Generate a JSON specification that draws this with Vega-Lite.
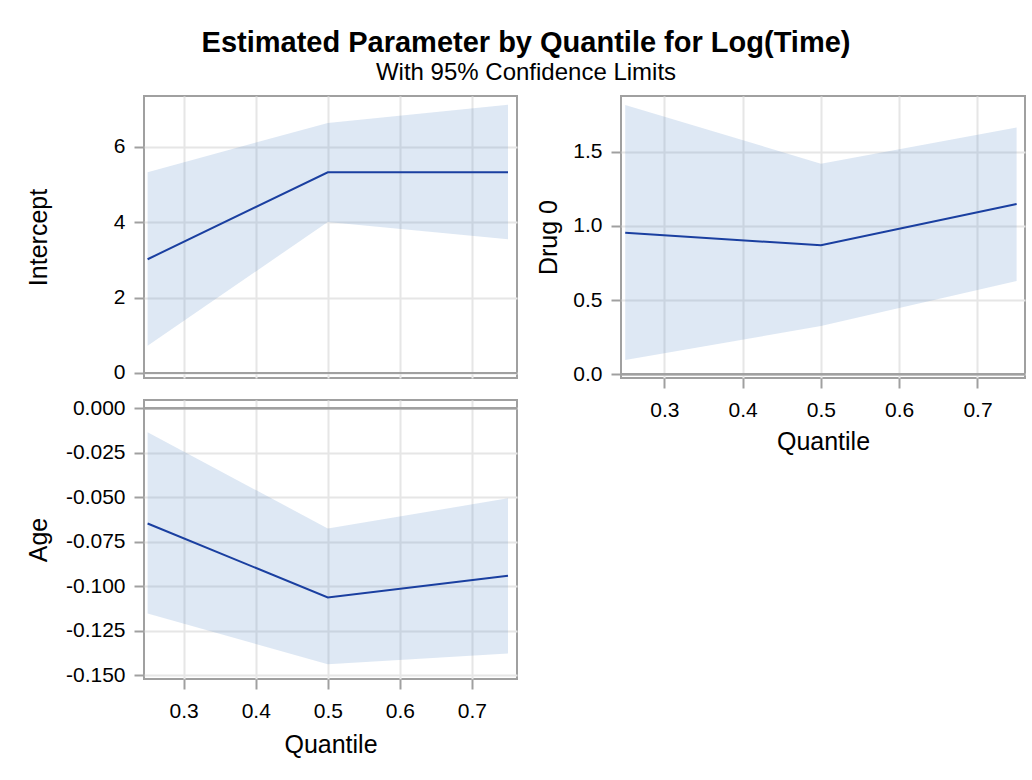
{
  "$schema": "https://vega.github.io/schema/vega-lite/v6.json",
  "background": "white",
  "padding": {"left": 24, "top": 29, "right": 5, "bottom": 5},
  "title": {
    "text": "Estimated Parameter by Quantile for Log(Time)",
    "subtitle": "With 95% Confidence Limits",
    "anchor": "middle",
    "font": "Liberation Sans",
    "fontSize": 29,
    "fontWeight": "bold",
    "color": "#000000",
    "subtitleFont": "Liberation Sans",
    "subtitleFontSize": 24,
    "subtitleColor": "#000000",
    "subtitlePadding": 3,
    "offset": 10
  },
  "datasets": {
    "est": [
      {"param": "Intercept", "q": 0.25, "est": 3.02, "lo": 0.72, "hi": 5.33},
      {"param": "Intercept", "q": 0.5, "est": 5.33, "lo": 4.01, "hi": 6.64},
      {"param": "Intercept", "q": 0.75, "est": 5.33, "lo": 3.55, "hi": 7.12},
      {"param": "Drug 0", "q": 0.25, "est": 0.954, "lo": 0.096, "hi": 1.815},
      {"param": "Drug 0", "q": 0.5, "est": 0.869, "lo": 0.325, "hi": 1.419},
      {"param": "Drug 0", "q": 0.75, "est": 1.148, "lo": 0.629, "hi": 1.662},
      {"param": "Age", "q": 0.25, "est": -0.0647, "lo": -0.1153, "hi": -0.0135},
      {"param": "Age", "q": 0.5, "est": -0.1063, "lo": -0.1438, "hi": -0.0675},
      {"param": "Age", "q": 0.75, "est": -0.0941, "lo": -0.1378, "hi": -0.0506}
    ]
  },
  "data": {"name": "est"},
  "columns": 2,
  "spacing": {"row": 22, "column": 104},
  "bounds": "flush",
  "align": "each",
  "concat": [
    {
      "width": 373,
      "height": 282,
      "transform": [{"filter": "datum.param === 'Intercept'"}],
      "layer": [
        {
          "mark": {"type": "area", "color": "#5b8ac8", "opacity": 0.2},
          "encoding": {
            "x": {"field": "q", "type": "quantitative", "title": null,
              "scale": {"domain": [0.245, 0.7625], "nice": false, "zero": false},
              "axis": {"values": [0.3, 0.4, 0.5, 0.6, 0.7], "labels": false, "ticks": false, "title": null, "grid": true}},
            "y": {"field": "lo", "type": "quantitative", "title": "Intercept",
              "scale": {"domain": [-0.133, 7.354], "nice": false, "zero": false},
              "axis": {"values": [0, 2, 4, 6], "format": "d", "titleX": -98}},
            "y2": {"field": "hi"}
          }
        },
        {
          "mark": {"type": "line", "color": "#1a3fa0", "strokeWidth": 2},
          "encoding": {
            "x": {"field": "q", "type": "quantitative", "title": null},
            "y": {"field": "est", "type": "quantitative", "title": "Intercept"}
          }
        },
        {
          "mark": {"type": "rule", "color": "#a0a0a0", "strokeWidth": 2},
          "encoding": {"y": {"datum": 0}}
        }
      ]
    },
    {
      "width": 404,
      "height": 282,
      "transform": [{"filter": "datum.param === 'Drug 0'"}],
      "layer": [
        {
          "mark": {"type": "area", "color": "#5b8ac8", "opacity": 0.2},
          "encoding": {
            "x": {"field": "q", "type": "quantitative", "title": "Quantile",
              "scale": {"domain": [0.2446, 0.7607], "nice": false, "zero": false},
              "axis": {"values": [0.3, 0.4, 0.5, 0.6, 0.7], "format": ".1f", "titleY": 71}},
            "y": {"field": "lo", "type": "quantitative", "title": "Drug 0",
              "scale": {"domain": [-0.025, 1.875], "nice": false, "zero": false},
              "axis": {"values": [0, 0.5, 1, 1.5], "format": ".1f", "titleX": -65}},
            "y2": {"field": "hi"}
          }
        },
        {
          "mark": {"type": "line", "color": "#1a3fa0", "strokeWidth": 2},
          "encoding": {
            "x": {"field": "q", "type": "quantitative", "title": "Quantile"},
            "y": {"field": "est", "type": "quantitative", "title": "Drug 0"}
          }
        },
        {
          "mark": {"type": "rule", "color": "#a0a0a0", "strokeWidth": 2},
          "encoding": {"y": {"datum": 0}}
        }
      ]
    },
    {
      "width": 373,
      "height": 279,
      "transform": [{"filter": "datum.param === 'Age'"}],
      "layer": [
        {
          "mark": {"type": "area", "color": "#5b8ac8", "opacity": 0.2},
          "encoding": {
            "x": {"field": "q", "type": "quantitative", "title": "Quantile",
              "scale": {"domain": [0.245, 0.7625], "nice": false, "zero": false},
              "axis": {"values": [0.3, 0.4, 0.5, 0.6, 0.7], "format": ".1f", "titleY": 73}},
            "y": {"field": "lo", "type": "quantitative", "title": "Age",
              "scale": {"domain": [-0.1521, 0.00467], "nice": false, "zero": false},
              "axis": {"values": [0, -0.025, -0.05, -0.075, -0.1, -0.125, -0.15],
                "labelExpr": "replace(format(datum.value, '.3f'), '\u2212', '-')", "titleX": -98}},
            "y2": {"field": "hi"}
          }
        },
        {
          "mark": {"type": "line", "color": "#1a3fa0", "strokeWidth": 2},
          "encoding": {
            "x": {"field": "q", "type": "quantitative", "title": "Quantile"},
            "y": {"field": "est", "type": "quantitative", "title": "Age"}
          }
        },
        {
          "mark": {"type": "rule", "color": "#a0a0a0", "strokeWidth": 2},
          "encoding": {"y": {"datum": 0}}
        }
      ]
    }
  ],
  "config": {
    "font": "Liberation Sans",
    "view": {"stroke": "#a0a0a0", "strokeWidth": 2},
    "axis": {
      "domain": false,
      "labelFont": "Liberation Sans",
      "labelFontSize": 21,
      "labelColor": "#000000",
      "titleFont": "Liberation Sans",
      "titleFontSize": 25,
      "titleFontWeight": "normal",
      "titleColor": "#000000",
      "titleBaseline": "alphabetic",
      "tickColor": "#a0a0a0",
      "tickSize": 10,
      "tickWidth": 2,
      "gridColor": "#e6e6e6",
      "gridWidth": 2
    },
    "axisY": {"labelPadding": 9},
    "axisX": {"labelPadding": 11}
  }
}
